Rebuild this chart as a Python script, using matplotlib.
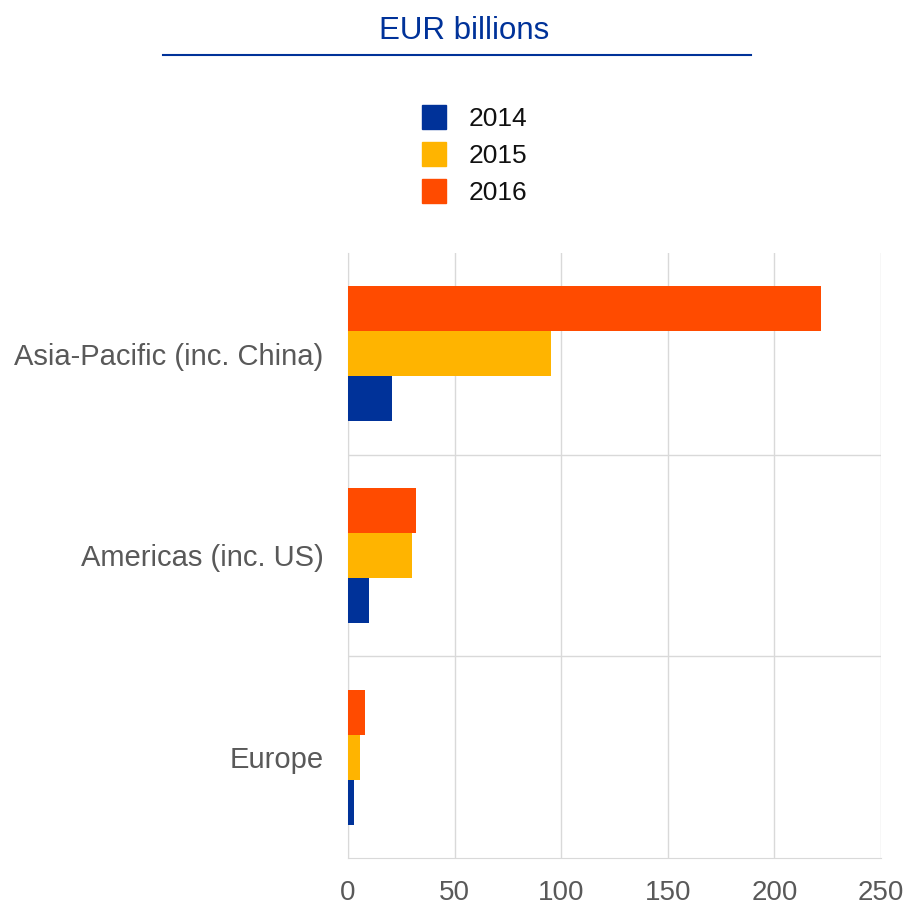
import matplotlib.pyplot as plt
from matplotlib.patches import Rectangle
from matplotlib.lines import Line2D
import numpy as np

plt.rcParams['font.family'] = ['Liberation Sans', 'DejaVu Sans']

# categories bottom to top (barh draws from y=0 upward)
regions = ['Europe', 'Americas (inc. US)', 'Asia-Pacific (inc. China)']
years = ['2014', '2015', '2016']
values_2014 = [3.0, 9.9, 20.5]
values_2015 = [5.5, 30.0, 95.0]
values_2016 = [7.8, 32.0, 222.0]
colors = ['#003299', '#FFB400', '#FF4B00']

W, H = 913, 916
fig = plt.figure(figsize=(W / 100, H / 100), dpi=100)
ax = fig.add_axes([348 / W, 1 - 858 / H, (881 - 348) / W, (858 - 253) / H])

y = np.arange(len(regions))
h = 0.223
for i, (vals, col) in enumerate(zip([values_2014, values_2015, values_2016], colors)):
    ax.barh(y + (i - 1) * h, vals, height=h, color=col, zorder=3)

ax.set_xlim(0, 250)
ax.set_ylim(-0.5, len(regions) - 0.5)
ax.set_xticks(np.arange(0, 251, 50))
ax.set_yticks(y)
ax.set_yticklabels(regions)

grid_col = '#d9d9d9'
ax.grid(axis='x', color=grid_col, lw=1, zorder=0)
for b in [0.5, 1.5]:
    ax.axhline(b, color=grid_col, lw=1, zorder=0)
for s in ['top', 'right']:
    ax.spines[s].set_visible(False)
for s in ['left', 'bottom']:
    ax.spines[s].set_color(grid_col)
ax.tick_params(axis='both', length=0, colors='#595959')
ax.tick_params(axis='x', labelsize=20, pad=16)
ax.tick_params(axis='y', labelsize=21, pad=17.5)

# heading with rule underneath
fig.text(464 / W, 1 - 31 / H, 'EUR billions', ha='center', va='center',
         fontsize=22.5, color='#003299')
fig.add_artist(Line2D([163 / W, 751 / W], [1 - 55 / H] * 2, transform=fig.transFigure,
                      color='#003299', lw=1.5))

# legend
for i, (yr, col) in enumerate(zip(years, colors)):
    yc = 117 + 37 * i
    fig.add_artist(Rectangle((422 / W, 1 - (yc + 12) / H), 24 / W, 24 / H,
                             transform=fig.transFigure, color=col))
    fig.text(469 / W, 1 - (yc + 2) / H, yr, va='center', fontsize=19, color='#111111')

fig.savefig('out.png', dpi=100)
